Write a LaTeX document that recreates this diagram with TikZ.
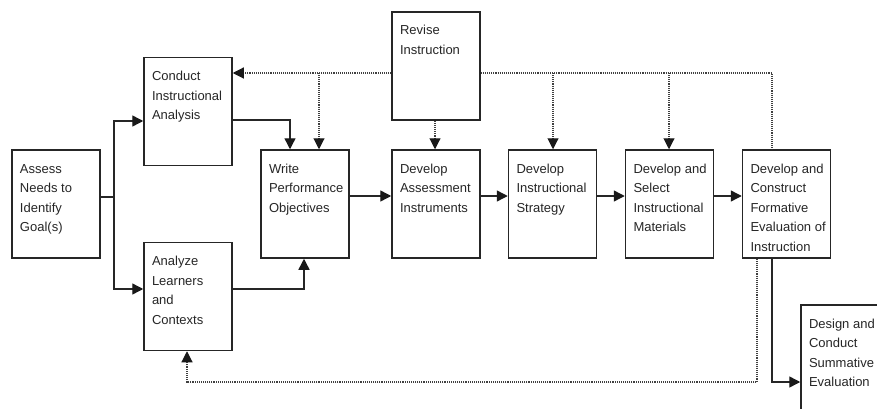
\documentclass[tikz,border=0pt]{standalone}
\usepackage{fontspec}
\setmainfont{Liberation Sans}
\usetikzlibrary{arrows.meta}
\newcommand\boxtext[1]{\parbox[c][108pt][t]{88pt}{\raggedright\leftskip=8pt\rule{0pt}{23pt}#1}}
\begin{document}
\begin{tikzpicture}[x=1pt,y=-1pt,
  every node/.style={font=\fontsize{13}{19.5}\selectfont, text=black!85},
  stage/.style={draw=black!85, line width=1.5pt, inner sep=0pt, minimum width=88pt, minimum height=108pt, fill=white},
  conn/.style={draw=black!85, line width=1.4pt},
  fb/.style={draw=black!75, line width=1.1pt, densely dotted},
  tip/.style={-{Triangle[length=11pt,width=11pt,color=black!90]}}
]
\useasboundingbox (0,0) rectangle (877,409);
\clip (0,0) rectangle (877,409);
\fill[white] (0,0) rectangle (877,409);

\node[stage] (assess)     at (56,204)    {\boxtext{Assess\\Needs to\\Identify\\Goal(s)}};
\node[stage] (conduct)    at (188,111.5) {\boxtext{Conduct\\Instructional\\Analysis}};
\node[stage] (analyze)    at (188,296.5) {\boxtext{Analyze\\Learners\\and\\Contexts}};
\node[stage] (write)      at (305,204)   {\boxtext{Write\\Performance\\Objectives}};
\node[stage] (revise)     at (436,66)    {\boxtext{Revise\\Instruction}};
\node[stage] (assessinst) at (436,204)   {\boxtext{Develop\\Assessment\\Instruments}};
\node[stage] (strategy)   at (552.5,204) {\boxtext{Develop\\Instructional\\Strategy}};
\node[stage] (select)     at (669.5,204) {\boxtext{Develop and\\Select\\Instructional\\Materials}};
\node[stage] (formative)  at (786.5,204) {\boxtext{Develop and\\Construct\\Formative\\Evaluation of\\Instruction}};
\node[stage] (summative)  at (845,359)   {\boxtext{Design and\\Conduct\\Summative\\Evaluation}};

% solid connectors
\coordinate (jA) at (114,197);
\coordinate (jTop) at (114,121);
\coordinate (jBot) at (114,289);
\draw[conn,tip] (assess.east |- jA) -- (jA) |- (conduct.west |- jTop);
\draw[conn,tip] (jA) |- (analyze.west |- jBot);

\coordinate (cw) at (290,120);
\draw[conn,tip] (conduct.east |- cw) -| (write.north -| cw);
\coordinate (aw) at (304,289);
\draw[conn,tip] (analyze.east |- aw) -| (write.south -| aw);

\coordinate (row) at (0,196);
\draw[conn,tip] (write.east |- row) -- (assessinst.west |- row);
\draw[conn,tip] (assessinst.east |- row) -- (strategy.west |- row);
\draw[conn,tip] (strategy.east |- row) -- (select.west |- row);
\draw[conn,tip] (select.east |- row) -- (formative.west |- row);

\coordinate (s1) at (772,382);
\draw[conn,tip] (formative.south -| s1) -- (s1) -- (summative.west |- s1);

% dotted feedback connectors
\coordinate (fbl) at (0,73);
\draw[fb,tip] (revise.west |- fbl) -- (conduct.east |- fbl);
\coordinate (b1) at (319,73);
\draw[fb,tip] (b1) -- (write.north -| b1);
\coordinate (b2) at (435,0);
\draw[fb,tip] (revise.south -| b2) -- (assessinst.north -| b2);
\coordinate (b5) at (772,73);
\draw[fb] (revise.east |- fbl) -- (b5) -- (formative.north -| b5);
\coordinate (b3) at (553,73);
\draw[fb,tip] (b3) -- (strategy.north -| b3);
\coordinate (b4) at (669,73);
\draw[fb,tip] (b4) -- (select.north -| b4);

\coordinate (d1) at (757,382);
\coordinate (d2) at (187,382);
\draw[fb,tip] (formative.south -| d1) -- (d1) -- (d2) -- (analyze.south -| d2);
\end{tikzpicture}
\end{document}
